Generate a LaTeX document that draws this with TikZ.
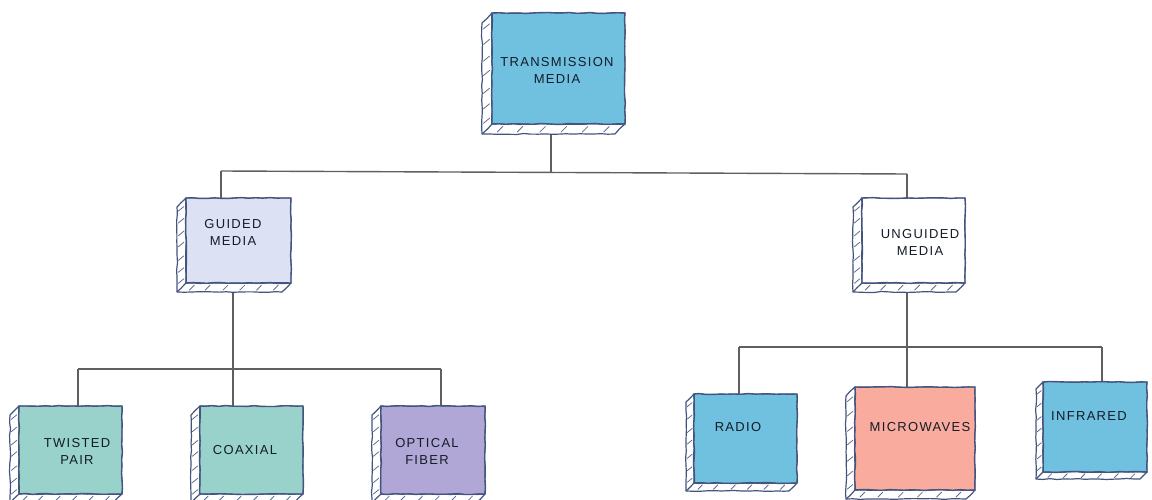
\documentclass[tikz,border=0pt]{standalone}
\usepackage{fontspec}
\newfontfamily\labelfont[LetterSpace=10]{Liberation Sans}
\usetikzlibrary{calc,decorations.pathmorphing}

\definecolor{edgecol}{HTML}{44547E}
\definecolor{conncol}{HTML}{5F5F5F}
\definecolor{skyfill}{HTML}{70C0E0}
\definecolor{lavfill}{HTML}{DCE2F4}
\definecolor{tealfill}{HTML}{98D2CB}
\definecolor{purpfill}{HTML}{B0A7D6}
\definecolor{salmfill}{HTML}{F9AB9E}
\definecolor{textcol}{HTML}{141C28}

\tikzset{
  sketch/.style={decorate,decoration={random steps,segment length=7pt,amplitude=0.5pt}},
  face/.style={draw=edgecol, line width=1.4pt, inner sep=0pt, outer sep=0pt,
    sketch,
    postaction={draw=edgecol, line width=0.8pt, decorate,
      decoration={random steps,segment length=9pt,amplitude=0.8pt}}},
  slabline/.style={draw=edgecol, line width=1.2pt, sketch, line join=round},
  hatch/.style={draw=edgecol!85, line width=0.8pt, line cap=round},
  conn/.style={draw=conncol, line width=1.4pt},
  caption/.style={font=\labelfont\fontsize{13}{17}\selectfont, text=textcol,
    align=center, inner sep=0pt},
}

% white extruded edge to the lower left of a face
\newcommand\slab[2]{%
  \filldraw[slabline, fill=white] (#1.north west) -- ++(-#2,#2)
    -- ($(#1.south west)+(-#2,#2)$) -- ($(#1.south east)+(-#2,#2)$)
    -- (#1.south east) -- (#1.south west) -- cycle;
  \draw[slabline] (#1.south west) -- ++(-#2,#2);
  \foreach \t in {0.08,0.22,0.37,0.5,0.66,0.8,0.93}
    \draw[hatch] ($(#1.north west)!\t!(#1.south west)+(-0.85*#2,0.7*#2)$) -- ++(0.6*#2,-0.5*#2);
  \foreach \t in {0.1,0.25,0.42,0.58,0.74,0.9}
    \draw[hatch] ($(#1.south west)!\t!(#1.south east)+(-0.8*#2,0.8*#2)$) -- ++(0.55*#2,-0.55*#2);
}

% face node: name, x1, y1, x2, y2, fill
\newcommand\face[6]{%
  \node[face, fill=#6, minimum width={#4-#2}, minimum height={#5-#3}]
    (#1) at ({(#2+#4)/2},{(#3+#5)/2}) {};
}

\begin{document}
\begin{tikzpicture}[x=1pt,y=-1pt]
\pgfmathsetseed{11}
\useasboundingbox (0,0) rectangle (1152,500);

% faces are placed first (drawn over again below) so their anchors exist
\begin{scope}[opacity=0]
\face{tm}{492}{13}{625}{124}{skyfill}
\face{gm}{186}{198}{291}{283}{lavfill}
\face{um}{862}{198}{965}{283}{white}
\face{tp}{19}{406}{122}{494}{tealfill}
\face{cx}{200}{406}{303}{494}{tealfill}
\face{of}{381}{406}{485}{494}{purpfill}
\face{rd}{694}{394}{797}{483}{skyfill}
\face{mw}{855}{387}{975}{490}{salmfill}
\face{ir}{1043}{382}{1147}{472}{skyfill}
\end{scope}

% connector junctions
\coordinate (top-l) at (221,171);
\coordinate (top-r) at (907,174);
\coordinate (top-m) at (551,172.5);
\coordinate (gb-l) at (78,369);
\coordinate (gb-m) at (233,369);
\coordinate (gb-r) at (441,369);
\coordinate (ub-l) at (739,347);
\coordinate (ub-m) at (907,347);
\coordinate (ub-r) at (1102,347);

% connectors
\draw[conn] (top-m |- tm.south) -- (top-m);
\draw[conn] (top-l) -- (top-r);
\draw[conn] (top-l) -- (top-l |- gm.north);
\draw[conn] (top-r) -- (top-r |- um.north);

\draw[conn] (gb-m |- gm.south) -- (gb-m);
\draw[conn] (gb-l) -- (gb-r);
\draw[conn] (gb-l) -- (gb-l |- tp.north);
\draw[conn] (gb-m) -- (gb-m |- cx.north);
\draw[conn] (gb-r) -- (gb-r |- of.north);

\draw[conn] (ub-m |- um.south) -- (ub-m);
\draw[conn] (ub-l) -- (ub-r);
\draw[conn] (ub-l) -- (ub-l |- rd.north);
\draw[conn] (ub-m) -- (ub-m |- mw.north);
\draw[conn] (ub-r) -- (ub-r |- ir.north);

% boxes
\slab{tm}{10}
\slab{gm}{9}
\slab{um}{9}
\slab{tp}{9}
\slab{cx}{9}
\slab{of}{9}
\slab{rd}{8}
\slab{mw}{9}
\slab{ir}{7}

\face{tm}{492}{13}{625}{124}{skyfill}
\face{gm}{186}{198}{291}{283}{lavfill}
\face{um}{862}{198}{965}{283}{white}
\face{tp}{19}{406}{122}{494}{tealfill}
\face{cx}{200}{406}{303}{494}{tealfill}
\face{of}{381}{406}{485}{494}{purpfill}
\face{rd}{694}{394}{797}{483}{skyfill}
\face{mw}{855}{387}{975}{490}{salmfill}
\face{ir}{1043}{382}{1147}{472}{skyfill}

% captions
\node[caption] (tm-t) at (557,70) {TRANSMISSION\\MEDIA};
\node[caption] (gm-t) at (233,232) {GUIDED\\MEDIA};
\node[caption] (um-t) at (920,242) {UNGUIDED\\MEDIA};
\node[caption] (tp-t) at (77,451) {TWISTED\\PAIR};
\node[caption] (cx-t) at (245,450) {COAXIAL};
\node[caption] (of-t) at (427,451) {OPTICAL\\FIBER};
\node[caption] (rd-t) at (738,427) {RADIO};
\node[caption] (mw-t) at (920,427) {MICROWAVES};
\node[caption] (ir-t) at (1089,416) {INFRARED};
\end{tikzpicture}
\end{document}
